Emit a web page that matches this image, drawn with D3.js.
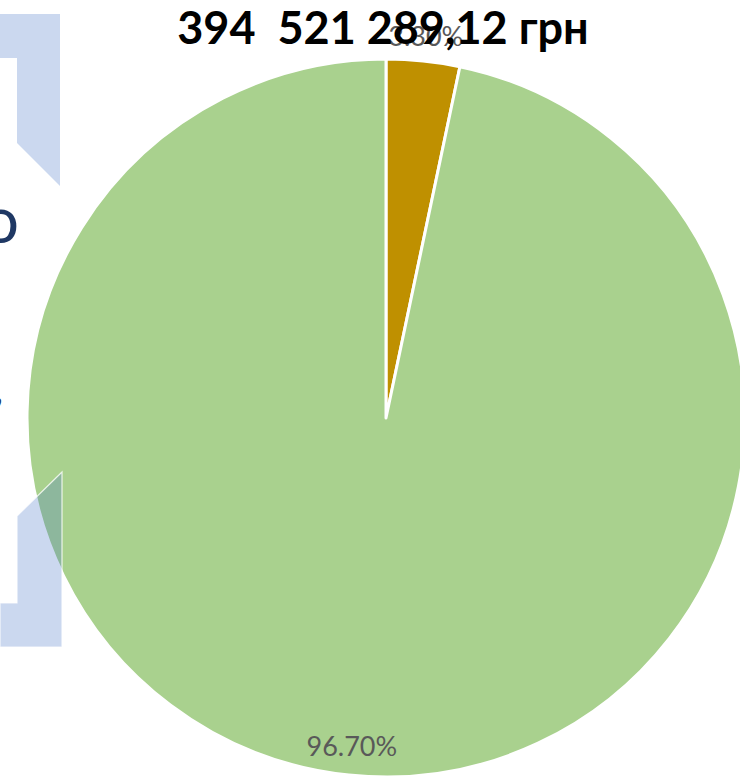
<!DOCTYPE html>
<html>
<head>
<meta charset="utf-8">
<script src="https://cdn.jsdelivr.net/npm/d3@7/dist/d3.min.js"></script>
<style>
  html, body { margin: 0; padding: 0; background: #ffffff; }
  svg { display: block; }
  text { white-space: pre; }
</style>
</head>
<body>
<svg id="chart" width="740" height="777"></svg>
<script>
// ---- data ----
const title = "394  521 289,12 грн";
const categories = ["Частка 1", "Частка 2"];
const values = [3.30, 96.70];
const labels = ["3.30%", "96.70%"];
const colors = ["#BF9000", "#A9D18E"];

// ---- layout ----
const W = 740, H = 777;
const cx = 386, cy = 418, R = 359;

const svg = d3.select("#chart");

// background slide decorations
const deco = svg.append("g");
const topShape = [[0,14],[60,14],[60,186],[17,143],[17,58],[0,58]];
const botShape = [[0,647],[62,647],[62,472],[17,516],[17,603],[0,603]];
const line = d3.line();

deco.append("path")
  .attr("d", line(topShape) + "Z")
  .attr("fill", "rgba(68,114,196,0.28)");

deco.append("text")
  .attr("x", 19).attr("y", 243)
  .attr("text-anchor", "end")
  .attr("font-family", "Lato, 'Open Sans', sans-serif")
  .attr("font-size", 64)
  .attr("fill", "#1F3864")
  .text("o");

deco.append("text")
  .attr("x", 3).attr("y", 403)
  .attr("text-anchor", "end")
  .attr("font-family", "Lato, 'Open Sans', sans-serif")
  .attr("font-size", 40)
  .attr("fill", "#1F3864")
  .text(",");

// pie
const data = categories.map((c, i) => ({ cat: c, value: values[i], label: labels[i], color: colors[i] }));
const pie = d3.pie().sort(null).value(d => d.value);
const arcs = pie(data);
const arc = d3.arc().innerRadius(0).outerRadius(R);

const g = svg.append("g").attr("transform", `translate(${cx},${cy})`);
g.selectAll("path.slice")
  .data(arcs)
  .enter().append("path")
  .attr("class", "slice")
  .attr("d", arc)
  .attr("fill", d => d.data.color)
  .attr("stroke", "#ffffff")
  .attr("stroke-width", 3)
  .attr("stroke-linejoin", "round");

// overlapping slide decoration on top of the pie
svg.append("path")
  .attr("d", line(botShape) + "Z")
  .attr("fill", "rgba(68,114,196,0.28)")
  .attr("stroke", "rgba(255,255,255,0.8)")
  .attr("stroke-width", 1.2);

// labels
const labelRadius = [384, 330];
g.selectAll("text.lbl")
  .data(arcs)
  .enter().append("text")
  .attr("class", "lbl")
  .attr("transform", (d, i) => {
    const c = d3.arc().innerRadius(labelRadius[i]).outerRadius(labelRadius[i]).centroid(d);
    return `translate(${c[0]},${c[1]})`;
  })
  .attr("text-anchor", "middle")
  .attr("dy", "0.36em")
  .attr("font-family", "Lato, 'Open Sans', sans-serif")
  .attr("font-size", 27)
  .attr("fill", "#595959")
  .text(d => d.data.label);

// title
svg.append("text")
  .attr("x", 383).attr("y", 44)
  .attr("text-anchor", "middle")
  .attr("font-family", "Lato, 'Open Sans', sans-serif")
  .attr("font-weight", "bold")
  .attr("font-size", 45)
  .attr("fill", "#000000")
  .text(title);
</script>
</body>
</html>
